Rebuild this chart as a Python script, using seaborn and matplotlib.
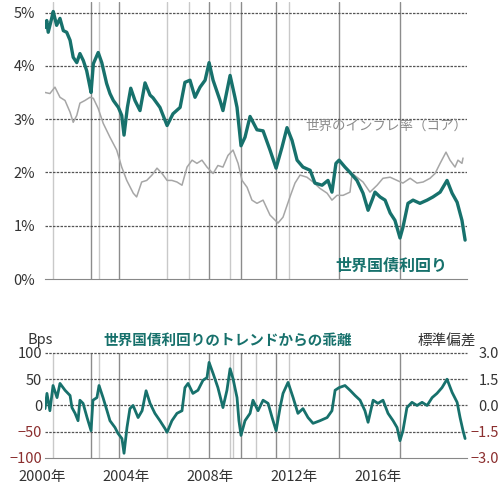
import matplotlib
matplotlib.use("Agg")
from matplotlib import pyplot as plt
from matplotlib.transforms import ScaledTranslation

import numpy as np
import pandas as pd
import seaborn as sns

# World government bond yield (%)
yield_years = [1999.67, 1999.75, 1999.82, 1999.99, 2000.06, 2000.22, 2000.38, 2000.54, 2000.70, 2000.86,
               2001.01, 2001.18, 2001.33, 2001.49, 2001.65, 2001.81, 2001.86, 2001.97, 2002.20, 2002.37,
               2002.60, 2002.76, 2002.92, 2003.16, 2003.32, 2003.43, 2003.59, 2003.75, 2003.95, 2004.19,
               2004.43, 2004.67, 2004.81, 2005.14, 2005.48, 2005.76, 2006.10, 2006.33, 2006.57, 2006.81,
               2007.05, 2007.29, 2007.48, 2007.67, 2008.00, 2008.14, 2008.48, 2008.71, 2008.81, 2009.00,
               2009.19, 2009.43, 2009.76, 2010.05, 2010.38, 2010.67, 2010.95, 2011.19, 2011.43, 2011.67,
               2011.95, 2012.29, 2012.52, 2012.86, 2013.14, 2013.33, 2013.52, 2013.67, 2013.95, 2014.19,
               2014.52, 2014.81, 2015.05, 2015.24, 2015.38, 2015.62, 2015.86, 2016.10, 2016.33, 2016.57,
               2016.71, 2016.95, 2017.19, 2017.52, 2017.86, 2018.14, 2018.48, 2018.81, 2019.05, 2019.29,
               2019.52, 2019.67]
yield_pct = [4.72, 4.85, 4.63, 4.90, 5.02, 4.76, 4.89, 4.66, 4.63, 4.48,
             4.16, 4.06, 4.23, 4.10, 3.91, 3.60, 3.50, 4.04, 4.25, 4.06,
             3.67, 3.48, 3.35, 3.22, 3.07, 2.70, 3.22, 3.58, 3.35, 3.16,
             3.68, 3.45, 3.40, 3.22, 2.88, 3.10, 3.22, 3.69, 3.73, 3.41,
             3.60, 3.73, 4.06, 3.73, 3.35, 3.16, 3.82, 3.41, 3.22, 2.50,
             2.66, 3.05, 2.80, 2.78, 2.42, 2.08, 2.47, 2.84, 2.60, 2.23,
             2.10, 2.04, 1.80, 1.76, 1.85, 1.63, 2.17, 2.23, 2.10, 2.00,
             1.85, 1.61, 1.29, 1.48, 1.63, 1.54, 1.48, 1.24, 1.10, 0.77,
             0.97, 1.42, 1.48, 1.42, 1.48, 1.54, 1.63, 1.85, 1.61, 1.44,
             1.10, 0.73]

# World core inflation (%)
infl_years = [1999.67, 1999.90, 2000.14, 2000.38, 2000.62, 2000.86, 2001.01, 2001.18, 2001.33, 2001.57,
              2001.81, 2001.97, 2002.20, 2002.44, 2002.76, 2003.08, 2003.32, 2003.56, 2003.87, 2004.03,
              2004.27, 2004.51, 2004.76, 2005.00, 2005.24, 2005.48, 2005.71, 2005.95, 2006.19, 2006.43,
              2006.67, 2006.90, 2007.14, 2007.38, 2007.67, 2007.90, 2008.14, 2008.38, 2008.62, 2008.86,
              2009.05, 2009.29, 2009.52, 2009.76, 2010.05, 2010.38, 2010.76, 2011.00, 2011.33, 2011.57,
              2011.81, 2012.14, 2012.43, 2012.76, 2013.10, 2013.33, 2013.57, 2013.86, 2014.19, 2014.29,
              2014.52, 2014.81, 2015.14, 2015.48, 2015.76, 2016.10, 2016.43, 2016.71, 2017.05, 2017.38,
              2017.67, 2018.00, 2018.24, 2018.48, 2018.76, 2018.95, 2019.19, 2019.33, 2019.52, 2019.57]
infl_pct = [3.50, 3.48, 3.60, 3.41, 3.35, 3.13, 2.94, 3.07, 3.30, 3.35,
            3.41, 3.39, 3.20, 2.92, 2.66, 2.42, 2.10, 1.85, 1.61, 1.54,
            1.82, 1.85, 1.95, 2.08, 1.98, 1.85, 1.85, 1.82, 1.76, 2.10,
            2.23, 2.17, 2.23, 2.10, 1.98, 2.13, 2.10, 2.32, 2.42, 2.17,
            1.85, 1.72, 1.48, 1.42, 1.48, 1.20, 1.05, 1.16, 1.54, 1.80,
            1.95, 1.91, 1.82, 1.70, 1.61, 1.48, 1.57, 1.57, 1.63, 1.98,
            1.91, 1.82, 1.63, 1.76, 1.89, 1.91, 1.85, 1.80, 1.89, 1.80,
            1.82, 1.89, 1.98, 2.17, 2.38, 2.23, 2.10, 2.23, 2.17, 2.27]

# Deviation of yield from trend (bps)
dev_years = [1999.67, 1999.76, 1999.90, 2000.05, 2000.24, 2000.38, 2000.62, 2000.86, 2000.95, 2001.10,
             2001.24, 2001.33, 2001.48, 2001.67, 2001.86, 2001.95, 2002.14, 2002.24, 2002.43, 2002.62,
             2002.76, 2003.00, 2003.14, 2003.33, 2003.43, 2003.57, 2003.71, 2003.86, 2004.10, 2004.29,
             2004.48, 2004.67, 2004.90, 2005.14, 2005.38, 2005.48, 2005.71, 2005.95, 2006.19, 2006.33,
             2006.48, 2006.71, 2006.95, 2007.19, 2007.38, 2007.48, 2007.67, 2007.90, 2008.14, 2008.33,
             2008.48, 2008.62, 2008.81, 2008.90, 2009.00, 2009.19, 2009.43, 2009.57, 2009.81, 2010.05,
             2010.29, 2010.48, 2010.67, 2010.86, 2011.00, 2011.24, 2011.48, 2011.71, 2011.95, 2012.19,
             2012.43, 2012.76, 2013.10, 2013.33, 2013.48, 2013.67, 2013.95, 2014.19, 2014.43, 2014.67,
             2014.90, 2015.05, 2015.29, 2015.52, 2015.76, 2016.00, 2016.24, 2016.43, 2016.57, 2016.71,
             2016.90, 2017.14, 2017.38, 2017.62, 2017.86, 2018.10, 2018.33, 2018.57, 2018.81, 2019.05,
             2019.29, 2019.43, 2019.57, 2019.67]
dev_bps = [-6, 23, -10, 38, 15, 42, 29, 19, -4, -15,
           -29, 10, 4, -23, -48, 10, 15, 38, 15, -10,
           -29, -42, -53, -63, -91, -42, -6, 0, -23, -10,
           28, 4, -15, -29, -44, -51, -29, -15, -10, 34,
           42, 23, 29, 48, 53, 82, 61, 34, -4, 29,
           70, 51, 15, -29, -57, -29, -15, 10, -10, 10,
           4, -23, -48, -4, 23, 44, 15, -15, -6, -23,
           -34, -29, -23, -10, 29, 34, 38, 29, 19, 10,
           -10, -32, 10, 4, 10, -15, -29, -42, -67, -48,
           -4, 6, 0, 6, 0, 15, 23, 34, 50, 25,
           6, -23, -48, -63]

# turning-point markers (vertical lines)
event_years = [2000.05, 2001.86, 2002.24, 2003.19, 2005.48, 2006.52, 2007.48, 2008.48,
               2009.00, 2010.67, 2011.29, 2013.67, 2016.57]
event_dark = [False, True, False, True, False, False, True, False,
              True, True, False, True, True]
extra_event_years = [2008.62, 2009.71]  # only in lower panel

pct_ticks = [0, 1, 2, 3, 4, 5]
pct_labels = ["0%", "1%", "2%", "3%", "4%", "5%"]
bps_ticks = [-100, -50, 0, 50, 100]
bps_labels = ["−100", "−50", "0", "50", "100"]
sd_ticks = [-3.0, -1.5, 0.0, 1.5, 3.0]
sd_labels = ["−3.0", "−1.5", "0.0", "1.5", "3.0"]
year_ticks = [2000, 2002, 2004, 2006, 2008, 2010, 2012, 2014, 2016, 2018]
year_labels = ["2000年", "", "2004年", "", "2008年", "", "2012年", "", "2016年", ""]

TEAL = "#17716c"
INFL = "#a6a6a6"
RED = "#8b2e2e"
TXT = "#333333"
DARK_V = "#8c8c8c"
LIGHT_V = "#c9c9c9"
GRID = "#555555"

sns.set_style("white")
plt.rcParams["font.family"] = ["Noto Sans CJK JP", "DejaVu Sans"]

df_yield = pd.DataFrame({"year": yield_years, "value": yield_pct})
df_infl = pd.DataFrame({"year": infl_years, "value": infl_pct})
df_dev = pd.DataFrame({"year": dev_years, "value": dev_bps})

fig = plt.figure(figsize=(5, 4.94), dpi=100)
ax1 = fig.add_axes([0.09, 0.4352, 0.844, 0.561])
ax2 = fig.add_axes([0.09, 0.0729, 0.844, 0.2126])

xmin, xmax = 1999.667, 2019.76

# ---- top panel
for yr, dark in zip(event_years, event_dark):
    ax1.axvline(yr, color=DARK_V if dark else LIGHT_V, lw=1, zorder=1)
for v in pct_ticks[1:]:
    ax1.axhline(v, color=GRID, lw=0.9, ls=(0, (2, 1)), zorder=1)

sns.lineplot(data=df_infl, x="year", y="value", ax=ax1, color=INFL, lw=1.1, zorder=3)
sns.lineplot(data=df_yield, x="year", y="value", ax=ax1, color=TEAL, lw=2.4, zorder=4)

ax1.set_xlim(xmin, xmax)
ax1.set_ylim(0, 5.2)
ax1.set_xlabel("")
ax1.set_ylabel("")
ax1.set_yticks(pct_ticks)
ax1.set_yticklabels(pct_labels)
ax1.set_xticks(year_ticks)
ax1.tick_params(axis="x", length=3, color="#888888", width=1, labelbottom=False)
ax1.tick_params(axis="y", length=0, pad=7, labelsize=10.5, labelcolor=TXT)
for s in ["left", "right", "top"]:
    ax1.spines[s].set_visible(False)
ax1.spines["bottom"].set_color("#888888")

ax1.text(2019.78, 2.88, "世界のインフレ率（コア）", ha="right", va="center",
         color="#8c8c8c", fontsize=9.7)
ax1.text(2016.14, 0.24, "世界国債利回り", ha="center", va="center",
         color=TEAL, fontsize=11.5, fontweight="bold")

# ---- bottom panel
for yr, dark in zip(event_years, event_dark):
    ax2.axvline(yr, color=DARK_V if dark else LIGHT_V, lw=1, zorder=1)
for yr in extra_event_years:
    ax2.axvline(yr, color=LIGHT_V, lw=1, zorder=1)
for v in bps_ticks[1:]:
    ax2.axhline(v, color=GRID, lw=0.9, ls=(0, (2, 1)), zorder=1, clip_on=False)

sns.lineplot(data=df_dev, x="year", y="value", ax=ax2, color=TEAL, lw=2.0, zorder=4)

ax2.set_xlim(xmin, xmax)
ax2.set_ylim(-100, 100)
ax2.set_xlabel("")
ax2.set_ylabel("")
ax2.set_yticks(bps_ticks)
ax2.set_yticklabels(bps_labels)
ax2.set_xticks(year_ticks)
ax2.set_xticklabels(year_labels)
ax2.set_xticks(np.arange(1999.75, 2019.76, 0.25), minor=True)
ax2.tick_params(axis="x", which="major", length=3, color="#888888", pad=6,
                labelsize=10.5, labelcolor=TXT)
ax2.tick_params(axis="x", which="minor", length=2, color="#aaaaaa")
ax2.tick_params(axis="y", length=0, pad=2, labelsize=10.5)
for lab, v in zip(ax2.get_yticklabels(), bps_ticks):
    lab.set_color(RED if v < 0 else TXT)
shift = ScaledTranslation(-10 / 100, 0, fig.dpi_scale_trans)
for lab in ax2.get_xticklabels():
    lab.set_transform(lab.get_transform() + shift)
for s in ["left", "right", "top"]:
    ax2.spines[s].set_visible(False)
ax2.spines["bottom"].set_color("#888888")

ax2r = ax2.twinx()
ax2r.set_ylim(-3.0, 3.0)
ax2r.set_yticks(sd_ticks)
ax2r.set_yticklabels(sd_labels)
ax2r.tick_params(axis="y", length=0, pad=23, labelsize=10.5)
for lab, v in zip(ax2r.get_yticklabels(), sd_ticks):
    lab.set_color(RED if v < 0 else TXT)
    lab.set_horizontalalignment("right")
for s in ax2r.spines.values():
    s.set_visible(False)

fig.text(0.08, 0.312, "Bps", ha="center", va="center", fontsize=10.5, color=TXT)
fig.text(0.456, 0.312, "世界国債利回りのトレンドからの乖離", ha="center", va="center",
         fontsize=10.5, color=TEAL, fontweight="bold")
fig.text(0.894, 0.308, "標準偏差", ha="center", va="center", fontsize=10.5, color=TXT)

fig.savefig("out.png", dpi=100)
